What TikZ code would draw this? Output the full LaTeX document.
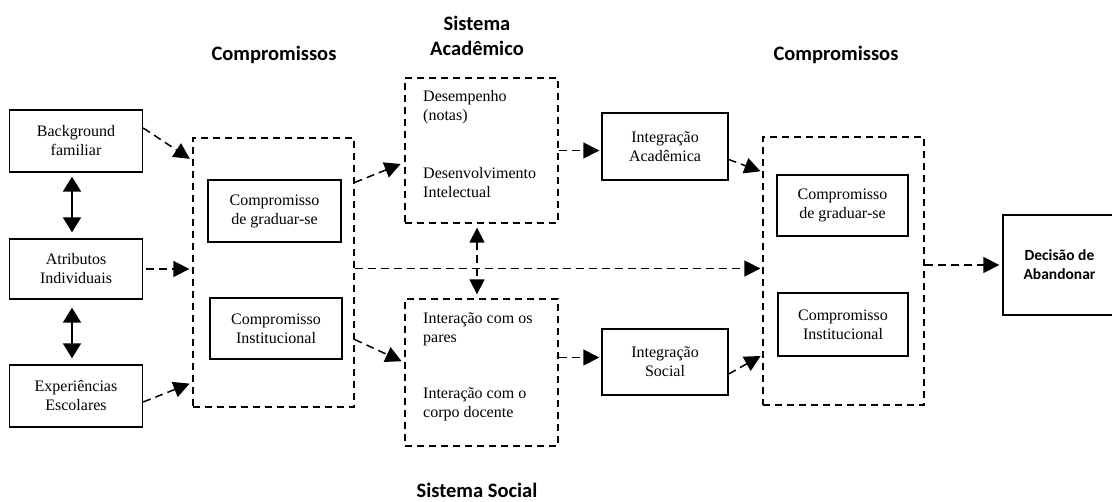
\documentclass[tikz,border=0pt]{standalone}
\usepackage{fontspec}
\setmainfont{Liberation Serif}
\newfontfamily\titlefont{Carlito}
\usepackage{tikz}
\usetikzlibrary{
    arrows.meta,
    calc,
    positioning
}

\begin{document}
\begin{tikzpicture}[x=1pt, y=-1pt,
    box/.style={draw, line width=1.4pt, inner sep=0pt, align=center,
        font=\fontsize{16}{19}\selectfont},
    dbox/.style={draw, line width=1.3pt, dash pattern=on 7pt off 5pt, inner sep=0pt},
    txt/.style={anchor=west, align=left, inner sep=0pt, font=\fontsize{16}{19}\selectfont},
    title/.style={align=center, inner sep=0pt, font=\titlefont\bfseries\fontsize{20.5}{25}\selectfont},
    darr/.style={line width=1.5pt, dash pattern=on 8pt off 5pt,
        -{Triangle[length=16pt, width=16pt]}},
    dbl/.style={line width=2pt,
        {Triangle[length=15pt, width=18pt]}-{Triangle[length=15pt, width=18pt]}}
]
    \useasboundingbox (0,0) rectangle (1112,502);

    % titulos
    \node[title] (tcl) at (274,55) {Compromissos};
    \node[title] (tsa) at (477,36) {Sistema\\Acadêmico};
    \node[title] (tcr) at (836,55) {Compromissos};
    \node[title] (tss) at (477,490) {Sistema Social};

    % entradas
    \node[box, minimum width=133pt, minimum height=62pt] (bg) at (76,141) {Background\\familiar};
    \node[box, minimum width=133pt, minimum height=60pt] (ai) at (76,269) {Atributos\\Individuais};
    \node[box, minimum width=133pt, minimum height=62pt] (ee) at (76,396) {Experiências\\Escolares};

    % compromissos (esquerda)
    \node[dbox, minimum width=161pt, minimum height=269pt] (cmpL) at (273.5,272.5) {};
    \node[box, minimum width=133pt, minimum height=62pt] (grL) at (274.5,211) {Compromisso\\de graduar-se};
    \node[box, minimum width=132pt, minimum height=61pt] (inL) at (276,328.5) {Compromisso\\Institucional};

    % sistemas
    \node[dbox, minimum width=153pt, minimum height=145pt] (sa) at (481.5,150.5) {};
    \node[txt] (des) at (423,107) {Desempenho\\(notas)};
    \node[txt] (dint) at (423,183) {Desenvolvimento\\Intelectual};
    \node[dbox, minimum width=153pt, minimum height=147pt] (ss) at (481.5,372.5) {};
    \node[txt] (ipar) at (423,329) {Interação com os\\pares};
    \node[txt] (idoc) at (423,404) {Interação com o\\corpo docente};

    % integracao
    \node[box, minimum width=126pt, minimum height=67pt] (ia) at (665,146.5) {Integração\\Acadêmica};
    \node[box, minimum width=126pt, minimum height=66pt] (is) at (665,362) {Integração\\Social};

    % compromissos (direita)
    \node[dbox, minimum width=161pt, minimum height=268pt] (cmpR) at (843.5,271) {};
    \node[box, minimum width=131pt, minimum height=61pt] (grR) at (842.5,205.5) {Compromisso\\de graduar-se};
    \node[box, minimum width=130pt, minimum height=63pt] (inR) at (843,324.5) {Compromisso\\Institucional};

    % decisao
    \node[box, minimum width=113pt, minimum height=100pt,
        font=\titlefont\bfseries\fontsize{15.5}{19}\selectfont] (dec) at (1059.5,265) {Decisão de\\Abandonar};

    % setas
    \draw[dbl, shorten <=4pt, shorten >=6pt] ([xshift=-4pt]bg.south) -- ([xshift=-4pt]ai.north);
    \draw[dbl, shorten <=8pt, shorten >=6pt] ([xshift=-4pt]ai.south) -- ([xshift=-4pt]ee.north);

    \draw[darr, shorten >=3pt] ([yshift=13pt]bg.east) -- ([yshift=112pt]cmpL.west);
    \draw[darr, shorten <=3pt, shorten >=3pt] (ai.east) -- (ai.east -| cmpL.west);
    \draw[darr, shorten >=3pt] ([yshift=-6pt]ee.east) -- ([yshift=-110pt]cmpL.west);

    \draw[darr, shorten >=4pt] ([yshift=90pt]cmpL.east) -- ([yshift=-12pt]sa.west);
    \draw[darr, shorten >=3pt] ([yshift=-67pt]cmpL.east) -- ([yshift=10pt]ss.west);
    \draw[darr, shorten >=2pt] ([yshift=4pt]cmpL.east) -- ([yshift=4pt]cmpL.east -| cmpR.west);
    \draw[darr, {Triangle[length=15pt, width=15pt]}-{Triangle[length=15pt, width=15pt]},
        shorten <=4pt, shorten >=4pt] ([xshift=-4.5pt]sa.south) -- ([xshift=-4.5pt]sa.south |- ss.north);

    \draw[darr, shorten >=2pt] (sa.east) -- (sa.east -| ia.west);
    \draw[darr, shorten >=2pt] ([yshift=15pt]ss.east) -- ([yshift=15pt]ss.east -| is.west);

    \draw[darr, shorten >=2pt] ([yshift=-13pt]ia.east) -- ([yshift=99pt]cmpR.west);
    \draw[darr, shorten >=2pt] ([yshift=-12pt]is.east) -- ([yshift=-84pt]cmpR.west);
    \draw[darr, shorten >=3pt] ([yshift=6pt]cmpR.east) -- ([yshift=6pt]cmpR.east -| dec.west);
\end{tikzpicture}
\end{document}
